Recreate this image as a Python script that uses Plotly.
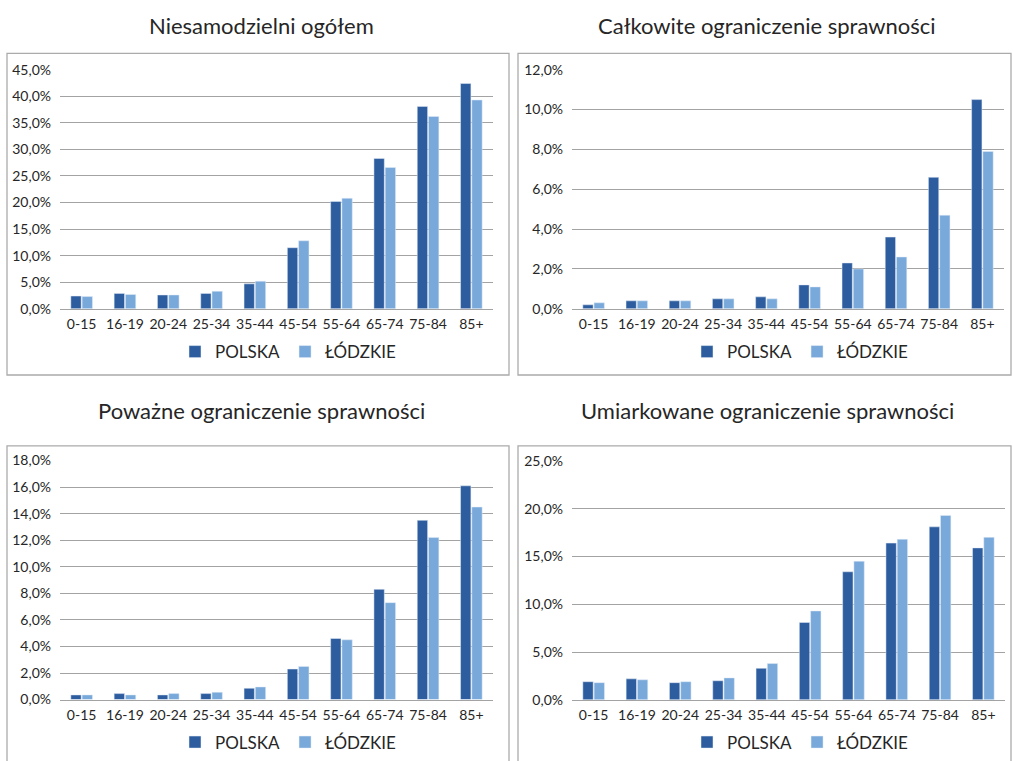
import plotly.graph_objects as go

categories = ["0-15", "16-19", "20-24", "25-34", "35-44", "45-54", "55-64", "65-74", "75-84", "85+"]
series_names = ["POLSKA", "ŁÓDZKIE"]

titles = [
    "Niesamodzielni ogółem",
    "Całkowite ograniczenie sprawności",
    "Poważne ograniczenie sprawności",
    "Umiarkowane ograniczenie sprawności",
]

ogolem_polska = [2.4, 2.9, 2.6, 2.9, 4.7, 11.5, 20.2, 28.3, 38.1, 42.4]
ogolem_lodzkie = [2.3, 2.7, 2.6, 3.3, 5.2, 12.8, 20.8, 26.6, 36.2, 39.3]

calkowite_polska = [0.2, 0.4, 0.4, 0.5, 0.6, 1.2, 2.3, 3.6, 6.6, 10.5]
calkowite_lodzkie = [0.3, 0.4, 0.4, 0.5, 0.5, 1.1, 2.0, 2.6, 4.7, 7.9]

powazne_polska = [0.35, 0.45, 0.35, 0.45, 0.85, 2.3, 4.6, 8.3, 13.5, 16.1]
powazne_lodzkie = [0.35, 0.35, 0.45, 0.55, 0.95, 2.5, 4.5, 7.3, 12.2, 14.5]

umiarkowane_polska = [1.9, 2.2, 1.8, 2.0, 3.3, 8.1, 13.4, 16.4, 18.1, 15.9]
umiarkowane_lodzkie = [1.8, 2.1, 1.9, 2.3, 3.8, 9.3, 14.5, 16.8, 19.3, 17.0]

y_max = [45, 12, 18, 25]
y_step = [5, 2, 2, 5]

panels = [
    (ogolem_polska, ogolem_lodzkie),
    (calkowite_polska, calkowite_lodzkie),
    (powazne_polska, powazne_lodzkie),
    (umiarkowane_polska, umiarkowane_lodzkie),
]

W, H = 1013, 761
C_DARK = "#2E5D9F"
C_LIGHT = "#78A9DA"
GRID = "#A3A3A3"
FONT = "Lato, 'Open Sans', sans-serif"
TXT = "#262626"

# vertical placement correction observed for the capture (content appears
# vertically compressed into ~744px, centred)
V_OFF = 8.5
V_SCALE = 744 / 761

def px_x(p):
    return p / W

def px_y(p):
    page_y = (p - V_OFF) / V_SCALE
    return 1 - page_y / H

# plot-area layout in target pixels: (x0, x1, ytop, ybottom)
areas = [
    (60, 493, 69.3, 308.7),
    (572, 1004, 69.3, 308.7),
    (60, 493, 460.7, 700.0),
    (572, 1005, 461.0, 700.3),
]
boxes = [
    (7, 509, 53, 375),
    (518, 1011, 53, 375),
    (7, 509, 446, 790),
    (518, 1011, 446, 790),
]
title_pos = [(261, 25), (767, 25), (261, 411), (767, 411)]
legend_pos = [(288, 352), (800, 352), (288, 743), (800, 743)]

fig = go.Figure()
layout = dict(
    width=W, height=H,
    margin=dict(l=0, r=0, t=0, b=0),
    paper_bgcolor="white", plot_bgcolor="white",
    separators=", ",
    barmode="group", bargap=0.48, bargroupgap=0.08,
    font=dict(family=FONT, color=TXT),
    annotations=[], shapes=[],
)

for i, (pol, lod) in enumerate(panels):
    n = "" if i == 0 else str(i + 1)
    leg = "legend" if i == 0 else "legend" + str(i + 1)
    fig.add_trace(go.Bar(x=categories, y=pol, name=series_names[0], marker_color=C_DARK,
                         xaxis="x" + n, yaxis="y" + n, legend=leg))
    fig.add_trace(go.Bar(x=categories, y=lod, name=series_names[1], marker_color=C_LIGHT,
                         xaxis="x" + n, yaxis="y" + n, legend=leg))
    x0, x1, yt, yb = areas[i]
    layout["xaxis" + n] = dict(
        domain=[px_x(x0), px_x(x1)], anchor="y" + n,
        showline=True, linecolor=GRID, linewidth=1.3, ticks="",
        tickfont=dict(size=14, family=FONT, color=TXT), showgrid=False,
        ticklabelstandoff=2, fixedrange=True,
    )
    layout["yaxis" + n] = dict(
        domain=[px_y(yb), px_y(yt)], anchor="x" + n,
        range=[0, y_max[i]], dtick=y_step[i], tick0=0,
        tickformat=".1f", ticksuffix="%",
        showgrid=True, gridcolor=GRID, gridwidth=1.3, zeroline=False,
        ticks="", ticklabelstandoff=8, fixedrange=True,
        tickfont=dict(size=14, family=FONT, color=TXT),
    )
    lx, ly = legend_pos[i]
    layout[leg] = dict(
        orientation="h", x=px_x(lx), y=px_y(ly), xanchor="center", yanchor="middle",
        font=dict(size=17, family=FONT, color=TXT), bgcolor="rgba(0,0,0,0)",
        itemwidth=30, traceorder="normal",
    )
    tx, ty = title_pos[i]
    layout["annotations"].append(dict(
        text=titles[i], x=px_x(tx), y=px_y(ty), xref="paper", yref="paper",
        xanchor="center", yanchor="middle", showarrow=False,
        font=dict(size=22, family=FONT, color=TXT),
    ))
    bx0, bx1, by0, by1 = boxes[i]
    layout["shapes"].append(dict(
        type="rect", xref="paper", yref="paper",
        x0=px_x(bx0), x1=px_x(bx1), y0=px_y(by1), y1=px_y(by0),
        line=dict(color="#ABABAB", width=1.3), fillcolor="rgba(0,0,0,0)", layer="below",
    ))

fig.update_layout(**layout)
fig.write_html(
    "out.html",
    config={"displayModeBar": False},
    post_script="document.body.style.margin='0';document.body.style.overflow='hidden';",
)
